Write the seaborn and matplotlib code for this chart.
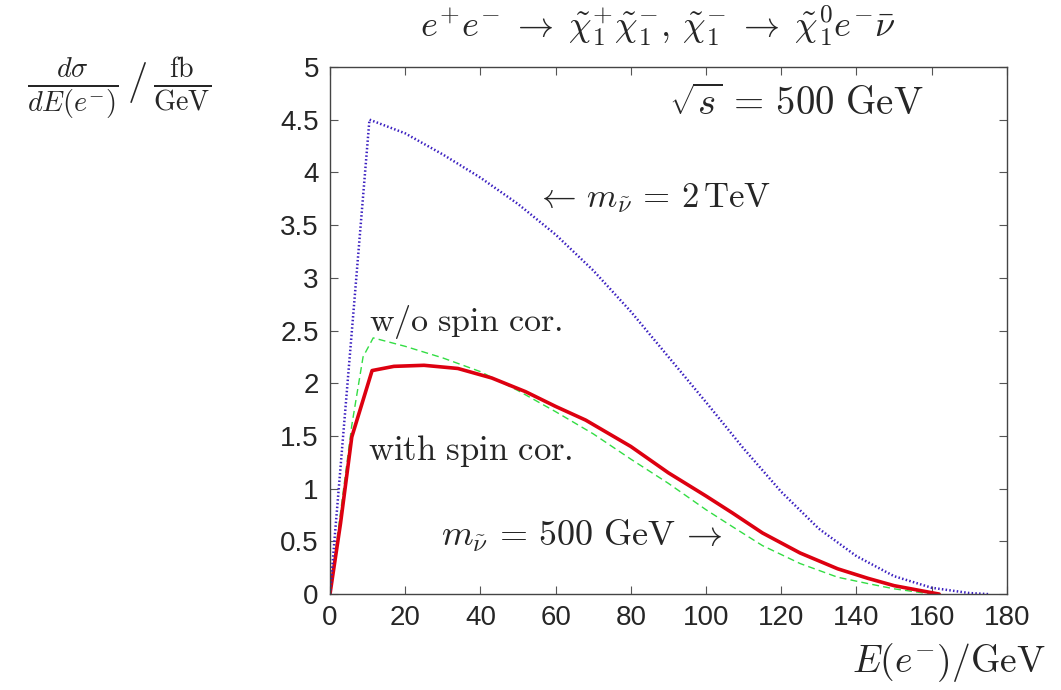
import numpy as np
import pandas as pd
import seaborn as sns
from matplotlib import pyplot as plt

# --- data ---
e_2tev = [0, 10.5, 20, 30, 40, 50, 60, 70, 80, 90, 100, 110, 120, 130, 140, 150, 160, 170, 175]
y_2tev = [0, 4.50, 4.37, 4.17, 3.95, 3.70, 3.41, 3.07, 2.68, 2.25, 1.82, 1.38, 0.97, 0.62, 0.36, 0.17, 0.06, 0.01, 0.0]

e_spin = [0, 2.8, 5.8, 11.2, 17, 25, 34, 43, 52, 60, 68, 80, 90, 100, 107, 115, 125, 135, 143, 150, 156, 162]
y_spin = [0, 0.67, 1.49, 2.12, 2.16, 2.17, 2.14, 2.05, 1.92, 1.78, 1.65, 1.40, 1.15, 0.93, 0.77, 0.58, 0.39, 0.24, 0.15, 0.08, 0.04, 0.0]

e_nospin = [0, 5.8, 8.8, 11.5, 20, 30, 40, 50, 60, 70, 80, 90, 100, 107, 115, 125, 135, 143, 150, 158, 162]
y_nospin = [0, 1.60, 2.25, 2.43, 2.35, 2.24, 2.11, 1.93, 1.73, 1.52, 1.28, 1.05, 0.80, 0.64, 0.46, 0.29, 0.16, 0.10, 0.05, 0.01, 0.0]

x_ticks = [0, 20, 40, 60, 80, 100, 120, 140, 160, 180]
y_ticks = [0, 0.5, 1, 1.5, 2, 2.5, 3, 3.5, 4, 4.5, 5]

sns.set_theme(style="ticks")
plt.rcParams['font.family'] = ['Liberation Sans', 'DejaVu Sans']
plt.rcParams['mathtext.fontset'] = 'cm'

fig = plt.figure(figsize=(10.61, 6.90), dpi=100)
ax = fig.add_axes([0.311, 0.139, 0.638, 0.764])

df_nospin = pd.DataFrame({"E": e_nospin, "y": y_nospin})
df_spin = pd.DataFrame({"E": e_spin, "y": y_spin})
df_2tev = pd.DataFrame({"E": e_2tev, "y": y_2tev})

sns.lineplot(data=df_nospin, x="E", y="y", ax=ax, color="#33dd44",
             linewidth=1.0, linestyle=(0, (5, 3)), sort=False)
sns.lineplot(data=df_spin, x="E", y="y", ax=ax, color="#dd0010",
             linewidth=2.6, sort=False)
sns.lineplot(data=df_2tev, x="E", y="y", ax=ax, color="#3a1fc0",
             linewidth=1.8, linestyle=(0, (0.6, 0.9)), sort=False)

ax.set_xlim(0, 180)
ax.set_ylim(0, 5)
ax.set_xticks(x_ticks)
ax.set_yticks(y_ticks)
ax.set_yticklabels([f"{t:g}" for t in y_ticks])
ax.tick_params(direction="in", top=True, right=True, labelsize=20,
               length=6, width=0.8, color="#555555", pad=8)
for sp in ax.spines.values():
    sp.set_linewidth(1.0)
    sp.set_color("#444444")
ax.set_xlabel("")
ax.set_ylabel("")

# labels placed like the gnuplot original
fig.text(0.62, 0.962, r"$e^{+}e^{-}\;\rightarrow\;\tilde{\chi}_1^{+}\tilde{\chi}_1^{-},\,\tilde{\chi}_1^{-}\;\rightarrow\;\tilde{\chi}_1^{0}e^{-}\bar{\nu}$",
         ha="center", va="center", fontsize=26)
fig.text(0.112, 0.872, r"$\frac{d\sigma}{dE(e^{-})}\,/\,\frac{\mathrm{fb}}{\mathrm{GeV}}$",
         ha="center", va="center", fontsize=29)
fig.text(0.894, 0.04, r"$E(e^{-})/\mathrm{GeV}$", ha="center", va="center", fontsize=27)

ax.text(124, 4.64, r"$\sqrt{s}\,=\,500\ \mathrm{GeV}$", ha="center", va="center", fontsize=28)
ax.text(86, 3.76, r"$\leftarrow\,m_{\tilde{\nu}}\,=\,2\,\mathrm{TeV}$", ha="center", va="center", fontsize=25)
ax.text(10.5, 2.58, r"$\mathrm{w/o\ spin\ cor.}$", ha="left", va="center", fontsize=24.5)
ax.text(10.2, 1.36, r"$\mathrm{with\ spin\ cor.}$", ha="left", va="center", fontsize=25)
ax.text(67, 0.55, r"$m_{\tilde{\nu}}\,=\,500\ \mathrm{GeV}\,\rightarrow$", ha="center", va="center", fontsize=26)

plt.savefig("out.png", dpi=100)
plt.close(fig)
